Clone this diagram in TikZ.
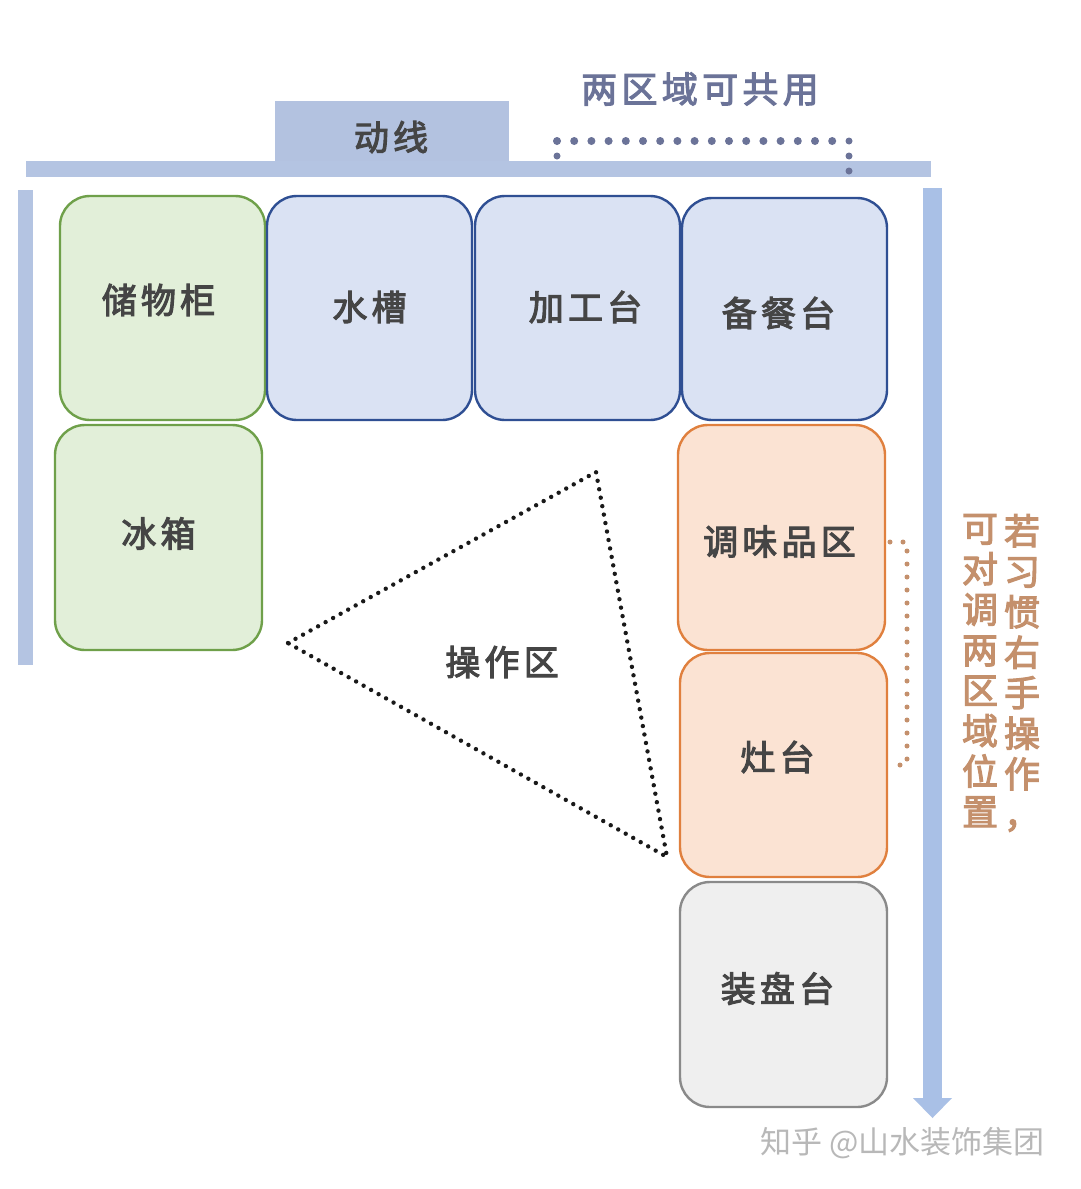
\documentclass[tikz,border=0pt]{standalone}
\usepackage{fontspec}
\newfontfamily\cjk{Noto Sans CJK SC}[FakeBold=3,LetterSpace=12]
\newfontfamily\cjkv{Noto Sans CJK SC}[FakeBold=3]
\newfontfamily\cjkw{Noto Sans CJK SC}
\definecolor{barblue}{HTML}{B4C4E2}
\definecolor{arrowblue}{HTML}{A9C0E6}
\definecolor{tabblue}{HTML}{B3C2E0}
\definecolor{slate}{HTML}{6B7398}
\definecolor{greenfill}{HTML}{E2EFD9}
\definecolor{greenline}{HTML}{6FA04A}
\definecolor{bluefill}{HTML}{DAE2F3}
\definecolor{blueline}{HTML}{2F4F93}
\definecolor{orangefill}{HTML}{FBE3D3}
\definecolor{orangeline}{HTML}{E0803E}
\definecolor{grayfill}{HTML}{EFEFEF}
\definecolor{grayline}{HTML}{8A8A8A}
\definecolor{tan}{HTML}{C4906C}
\definecolor{txt}{HTML}{454545}
\begin{document}
\begin{tikzpicture}[x=1pt,y=-1pt,
  box/.style={rectangle,rounded corners=30pt,line width=2.4pt,minimum width=205pt,minimum height=224pt,inner sep=0pt},
  gbox/.style={box,draw=greenline,fill=greenfill},
  bbox/.style={box,draw=blueline,fill=bluefill},
  obox/.style={box,draw=orangeline,fill=orangefill},
  ybox/.style={box,draw=grayline,fill=grayfill},
  lbl/.style={font=\cjk\fontsize{35}{40}\selectfont,text=txt,inner sep=0pt},
  vtext/.style={font=\cjkv\fontsize{36}{40.5}\selectfont,text=tan,align=center,inner sep=0pt,text width=40pt},
]
\useasboundingbox (0,0) rectangle (1080,1189);
\fill[white] (0,0) rectangle (1080,1189);

% bars
\fill[tabblue] (275,101) rectangle (509,161);
\node[lbl] (dx) at (391,137) {动线};
\fill[barblue] (26,161) rectangle (931,177);
\fill[barblue] (18,190) rectangle (33,665);
\fill[arrowblue] (923,188) rectangle (942,1100);
\fill[arrowblue] (913,1098) -- (952,1098) -- (932.5,1118) -- cycle;

% top label and dotted bracket
\node[font=\cjk\fontsize{36}{40}\selectfont,text=slate,inner sep=0pt] (share) at (700,89) {两区域可共用};
\coordinate (s1) at (557,141);
\coordinate (s2) at (849,141);
\coordinate (s1b) at (557,170);
\coordinate (s2b) at (849,172);
\draw[slate,line width=8pt,line cap=round,dash pattern=on 0pt off 17.2pt] (s1) -- (s2);
\draw[slate,line width=7pt,line cap=round,dash pattern=on 0pt off 15pt] (s1) -- (s1b);
\draw[slate,line width=7pt,line cap=round,dash pattern=on 0pt off 15pt] (s2) -- (s2b);

% boxes
\node[gbox] (chu) at (162.5,308) {};
\node[bbox] (shui) at (369.5,308) {};
\node[bbox] (jia) at (577.5,308) {};
\node[bbox,minimum height=222pt] (bei) at (784.5,309) {};
\node[gbox,minimum width=207pt,minimum height=225pt] (bing) at (158.5,537.5) {};
\node[obox,minimum width=207pt,minimum height=225pt] (tiao) at (781.5,537.5) {};
\node[obox,minimum width=207pt] (zao) at (783.5,765) {};
\node[ybox,minimum width=207pt,minimum height=225pt] (zhuang) at (783.5,994.5) {};

\node[lbl] (chuL) at ([xshift=-4pt,yshift=8pt]chu.center) {储物柜};
\node[lbl] (shuiL) at ([yshift=1pt]shui.center) {水槽};
\node[lbl] (jiaL) at ([xshift=8pt,yshift=1pt]jia.center) {加工台};
\node[lbl] (beiL) at ([xshift=-6pt,yshift=-4pt]bei.center) {备餐台};
\node[lbl] (bingL) at ([yshift=4pt]bing.center) {冰箱};
\node[lbl] (tiaoL) at ([xshift=-2pt,yshift=-4pt]tiao.center) {调味品区};
\node[lbl] (zaoL) at ([xshift=-6pt,yshift=8pt]zao.center) {灶台};
\node[lbl] (zhuangL) at ([xshift=-6pt,yshift=6pt]zhuang.center) {装盘台};

% triangle
\coordinate (t1) at (288,643);
\coordinate (t2) at (596,472);
\coordinate (t3) at (667,857);
\draw[black!90,line width=4.4pt,line cap=round,dash pattern=on 0pt off 8.6pt] (t1) -- (t2) -- (t3) -- cycle;
\node[lbl] (cz) at (502,662) {操作区};

% orange bracket
\coordinate (o1) at (890,542);
\coordinate (o2) at (907,542);
\coordinate (o3) at (907,765);
\coordinate (o4) at (890,765);
\draw[tan,line width=5pt,line cap=round,dash pattern=on 0pt off 13pt] (o1) -- (o2) -- (o3) -- (o4);

% vertical text
\node[vtext,anchor=north] (colR) at (1022,514) {若\\习\\惯\\右\\手\\操\\作\\，};
\node[vtext,anchor=north] (colL) at (980,514) {可\\对\\调\\两\\区\\域\\位\\置};

% watermark
\node[font=\cjkw\fontsize{31}{36}\selectfont,text=black!28,anchor=west,inner sep=0pt] (wm) at (760,1143) {知乎 @山水装饰集团};
\end{tikzpicture}
\end{document}
